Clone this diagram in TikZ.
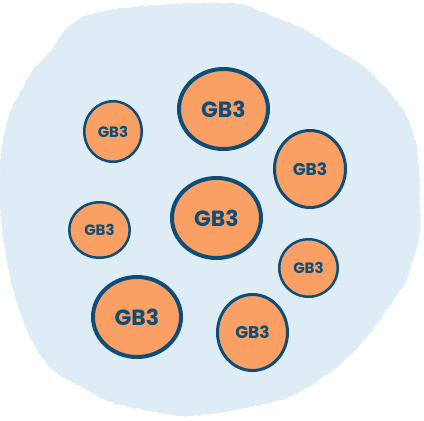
\documentclass[tikz,border=0pt]{standalone}
\usepackage{fontspec}
\setmainfont{Poppins}
\usetikzlibrary{shapes.geometric,decorations.pathmorphing}
\definecolor{bgblue}{HTML}{DEEDF5}
\definecolor{cellorange}{HTML}{FBA064}
\definecolor{darkblue}{HTML}{0E4D78}
\tikzset{
  cell/.style={ellipse, draw=darkblue, fill=cellorange, inner sep=0pt, text=darkblue, font=\bfseries},
  bigcell/.style={cell, line width=4pt, font=\bfseries\fontsize{22}{22}\selectfont},
  midcell/.style={cell, line width=3pt, font=\bfseries\fontsize{17}{17}\selectfont},
  smallcell/.style={cell, line width=2.5pt, font=\bfseries\fontsize{15}{15}\selectfont},
}
\begin{document}
\begin{tikzpicture}[x=1pt,y=-1pt]
\useasboundingbox (0,0) rectangle (424,421);
\fill[bgblue, decorate, decoration={random steps, segment length=2.5pt, amplitude=0.7pt}]
  plot[smooth cycle, tension=0.6] coordinates {
  (70,25) (100,12) (133,7) (170,4) (212,3) (240,4) (262,12) (302,28) (329,45)
  (359,63) (385,87) (405,113) (415,140) (419,167) (420,210) (419,240) (412,262)
  (405,283) (385,312) (362,343) (329,373) (289,397) (245,408) (212,414) (180,416)
  (150,411) (110,402) (83,388) (53,370) (33,343) (20,312) (10,277) (3,237) (0,210)
  (0,167) (3,140) (10,113) (20,93) (33,70) (50,52)};
\node[bigcell, minimum width=89pt, minimum height=80pt] (c1) at (223.5,109) {GB3};
\node[smallcell, minimum width=57.5pt, minimum height=60.5pt] (c2) at (113,131.5) {GB3};
\node[midcell, minimum width=71pt, minimum height=77pt] (c3) at (310,169) {GB3};
\node[bigcell, minimum width=89pt, minimum height=80pt] (c4) at (216.5,218) {GB3};
\node[smallcell, minimum width=60.5pt, minimum height=55.5pt] (c5) at (99.5,230) {GB3};
\node[smallcell, minimum width=58.5pt, minimum height=57.5pt] (c6) at (308.5,268) {GB3};
\node[bigcell, minimum width=88pt, minimum height=80pt] (c7) at (137,317) {GB3};
\node[midcell, minimum width=70pt, minimum height=76pt] (c8) at (252.5,332.5) {GB3};
\end{tikzpicture}
\end{document}
